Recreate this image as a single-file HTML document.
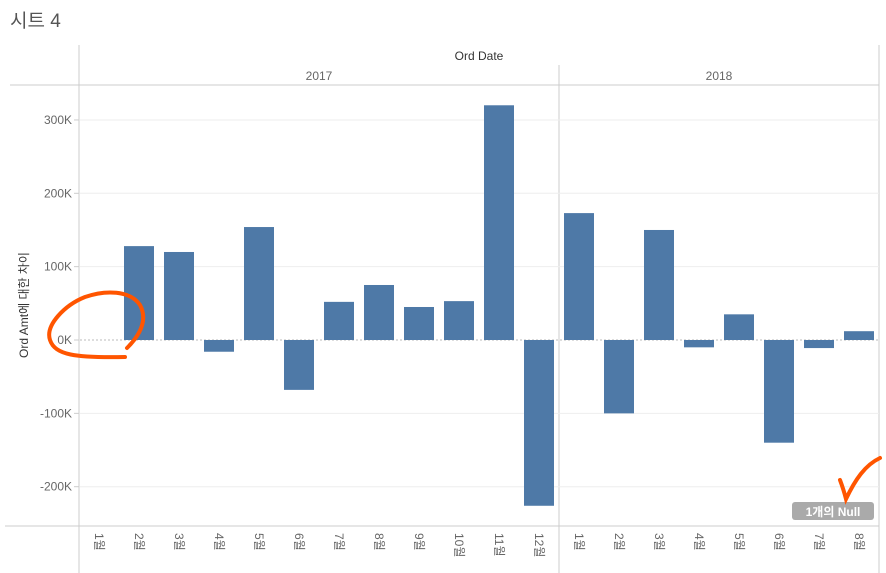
<!DOCTYPE html>
<html><head><meta charset="utf-8">
<style>
html,body{margin:0;padding:0;background:#fff;width:886px;height:573px;overflow:hidden}
svg text{font-family:"Liberation Sans","Noto Sans CJK KR",sans-serif}
</style></head>
<body>
<svg width="886" height="573">
<text x="10" y="27" font-size="19" fill="#555">시트 4</text>
<g id="frame"></g>
<g id="grid"></g>
<g id="bars"></g>
<g id="ylab"></g>
<g id="xlab"></g>
<text x="479" y="60" font-size="12" fill="#333" text-anchor="middle">Ord Date</text>
<text x="319" y="80" font-size="12" fill="#666" text-anchor="middle">2017</text>
<text x="719" y="80" font-size="12" fill="#666" text-anchor="middle">2018</text>
<text transform="translate(28,305) rotate(-90)" font-size="12" fill="#333" text-anchor="middle">Ord Amt에 대한 차이</text>
<g>
<rect x="792" y="502" width="82" height="18" rx="3" fill="#aaa"/>
<text x="833" y="516" font-size="12" font-weight="bold" fill="#fff" text-anchor="middle">1개의 Null</text>
</g>
<path d="M127,348 C140,335 148,320 140,305 C130,290 105,290 85,297 C65,305 45,325 50,340 C55,355 75,358 125,357" fill="none" stroke="#ff5500" stroke-width="4" stroke-linecap="round"/>
<path d="M840,480 C843,488 845,495 846,499 C855,480 865,465 880,458" fill="none" stroke="#ff5500" stroke-width="4" stroke-linecap="round"/>
</svg>
<script>
const months2017=["1월","2월","3월","4월","5월","6월","7월","8월","9월","10월","11월","12월"];
const months2018=["1월","2월","3월","4월","5월","6월","7월","8월"];
const values2017=[null,128,120,-16,154,-68,52,75,45,53,320,-226];
const values2018=[173,-100,150,-10,35,-140,-11,12];
const yTicks=[-200,-100,0,100,200,300];
const yTickLabels=["-200K","-100K","0K","100K","200K","300K"];

(function(){
const NS="http://www.w3.org/2000/svg";
const L=79,CW=40,BW=30;
const yS=v=>340-v*0.7335;
const xS=i=>L+i*CW+CW/2;
function mk(tag,attrs,parent){const e=document.createElementNS(NS,tag);for(const k in attrs)e.setAttribute(k,attrs[k]);parent.appendChild(e);return e;}
const frame=document.getElementById('frame'),grid=document.getElementById('grid'),bars=document.getElementById('bars'),ylab=document.getElementById('ylab'),xlab=document.getElementById('xlab');
mk('line',{x1:79,y1:45,x2:79,y2:573,stroke:'#ccc'},frame);
mk('line',{x1:559,y1:65,x2:559,y2:573,stroke:'#ccc'},frame);
mk('line',{x1:879,y1:45,x2:879,y2:573,stroke:'#ccc'},frame);
mk('line',{x1:10,y1:85,x2:879,y2:85,stroke:'#ccc'},frame);
mk('line',{x1:5,y1:526,x2:879,y2:526,stroke:'#ccc'},frame);
yTicks.forEach((t,i)=>{
  const yy=yS(t);
  const g=mk('line',{x1:80,y1:yy,x2:879,y2:yy,stroke:t===0?'#bbb':'#eee'},grid);
  if(t===0)g.setAttribute('stroke-dasharray','2,2');
  
  
  mk('line',{x1:74,y1:yy,x2:79,y2:yy,stroke:'#ccc'},ylab);
  const tx=mk('text',{x:72,y:yy+4,'font-size':12,fill:'#666','text-anchor':'end'},ylab);
  tx.textContent=yTickLabels[i];
  
  
});
const allVals=values2017.concat(values2018);
const allLabels=months2017.concat(months2018);
allVals.forEach((v,i)=>{
  if(v!==null){
    const r=mk('rect',{x:xS(i)-BW/2,y:Math.min(yS(v),yS(0)),width:BW,height:Math.abs(yS(v)-yS(0)),fill:'#4e79a7'},bars);
    
    
  }
  const t=mk('text',{transform:'translate('+(xS(i)-4)+',533) rotate(90)','font-size':12,fill:'#666'},xlab);
  t.textContent=allLabels[i];
  
  
});
})();
</script>
</body></html>
